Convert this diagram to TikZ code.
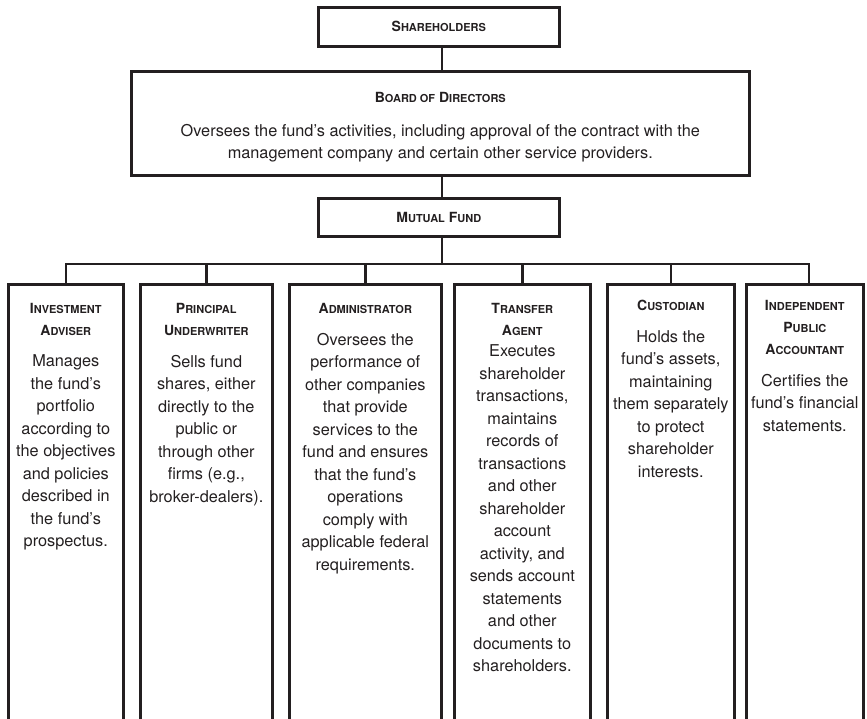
\documentclass[tikz,border=0pt]{standalone}
\usepackage{fontspec}
\setmainfont{TeX Gyre Heros}
\definecolor{ink}{RGB}{35,31,32}
\newcommand\scw[2]{{\fontsize{14}{22}\selectfont #1}{\fontsize{11}{22}\selectfont #2}}
\begin{document}
\begin{tikzpicture}[x=1pt,y=-1pt,
  box/.style={draw=ink, line width=2.6pt, inner sep=0pt, anchor=north west},
  conn/.style={draw=ink, line width=2.6pt, line join=miter},
  ttl/.style={font=\bfseries\fontsize{14}{22}\selectfont, text=ink, align=center, inner sep=0pt},
  body/.style={font=\fontsize{16.3}{22.5}\selectfont, text=ink, align=center, inner sep=0pt},
]
\useasboundingbox (0,0) rectangle (867,719);
\clip (0,0) rectangle (867,719);

% top boxes
\node[box, minimum width=241, minimum height=39] (sh) at (317,6) {};
\node[ttl] (shT) at (sh.center) {\scw{S}{HAREHOLDERS}};

\node[box, minimum width=618, minimum height=104] (bd) at (130,70) {};
\node[ttl, anchor=north] (bdT) at ([yshift=-22]bd.north) {\scw{B}{OARD OF} \scw{D}{IRECTORS}};
\node[body, anchor=north] (bdB) at ([yshift=-54]bd.north) {Oversees the fund’s activities, including approval of the contract with the\\management company and certain other service providers.};

\node[box, minimum width=241, minimum height=38] (mf) at (317,197) {};
\node[ttl] (mfT) at (mf.center) {\scw{M}{UTUAL} \scw{F}{UND}};

% columns
\node[box, minimum width=115, minimum height=460] (c1) at (7,283) {};
\node[box, minimum width=132, minimum height=460] (c2) at (139,283) {};
\node[box, minimum width=152, minimum height=460] (c3) at (288,283) {};
\node[box, minimum width=136, minimum height=460] (c4) at (453,283) {};
\node[box, minimum width=127, minimum height=460] (c5) at (606,283) {};
\node[box, minimum width=117, minimum height=460] (c6) at (745,283) {};

\node[ttl, anchor=north] (t1) at ([yshift=-20]c1.north) {\scw{I}{NVESTMENT}\\\scw{A}{DVISER}};
\node[body, anchor=north] (b1) at ([yshift=-19]t1.south) {Manages\\the fund’s\\portfolio\\according to\\the objectives\\and policies\\described in\\the fund’s\\prospectus.};

\node[ttl, anchor=north] (t2) at ([yshift=-20]c2.north) {\scw{P}{RINCIPAL}\\\scw{U}{NDERWRITER}};
\node[body, anchor=north] (b2) at ([yshift=-19]t2.south) {Sells fund\\shares, either\\directly to the\\public or\\through other\\firms (e.g.,\\broker-dealers).};

\node[ttl, anchor=north] (t3) at ([yshift=-20]c3.north) {\scw{A}{DMINISTRATOR}};
\node[body, anchor=north] (b3) at ([yshift=-19]t3.south) {Oversees the\\performance of\\other companies\\that provide\\services to the\\fund and ensures\\that the fund’s\\operations\\comply with\\applicable federal\\requirements.};

\node[ttl, anchor=north] (t4) at ([yshift=-20]c4.north) {\scw{T}{RANSFER}\\\scw{A}{GENT}};
\node[body, anchor=north] (b4) at ([yshift=-9]t4.south) {Executes\\shareholder\\transactions,\\maintains\\records of\\transactions\\and other\\shareholder\\account\\activity, and\\sends account\\statements\\and other\\documents to\\shareholders.};

\node[ttl, anchor=north] (t5) at ([yshift=-17]c5.north) {\scw{C}{USTODIAN}};
\node[body, anchor=north] (b5) at ([yshift=-19]t5.south) {Holds the\\fund’s assets,\\maintaining\\them separately\\to protect\\shareholder\\interests.};

\node[ttl, anchor=north] (t6) at ([yshift=-17]c6.north) {\scw{I}{NDEPENDENT}\\\scw{P}{UBLIC}\\\scw{A}{CCOUNTANT}};
\node[body, anchor=north] (b6) at ([yshift=-19]t6.south) {Certifies the\\fund’s financial\\statements.};

% connectors
\coordinate (sp) at (442,0);
\coordinate (bus) at (0,264);
\coordinate (d6) at (809,0);
\draw[conn] (sh.south -| sp) -- (bd.north -| sp);
\draw[conn] (bd.south -| sp) -- (mf.north -| sp);
\draw[conn] (mf.south -| sp) -- (sp |- bus);
\draw[conn] (c1.north) -- (c1.north |- bus) -- (d6 |- bus) -- (c6.north -| d6);
\foreach \c in {c2,c3,c4,c5} \draw[conn] (\c.north |- bus) -- (\c.north);
\end{tikzpicture}
\end{document}
